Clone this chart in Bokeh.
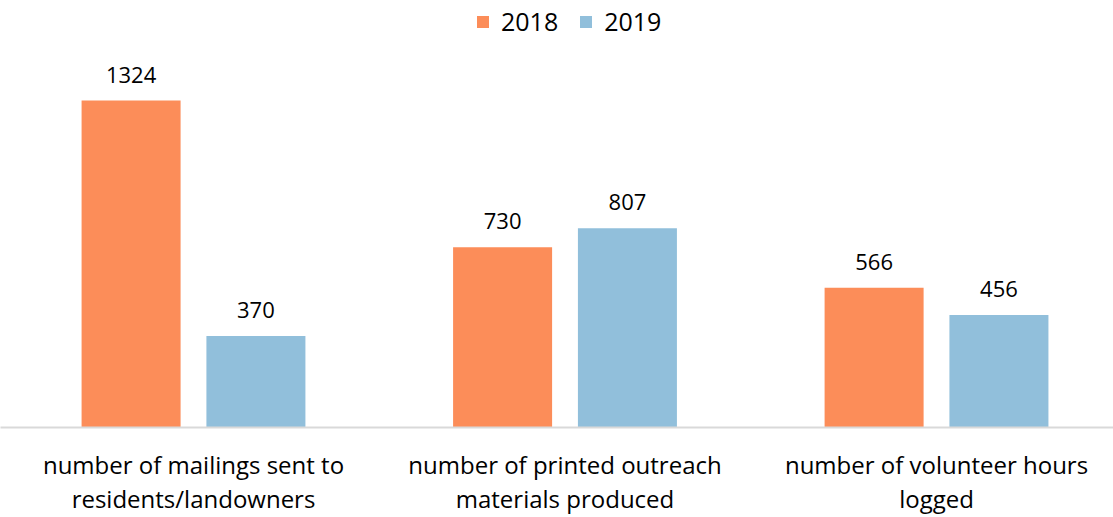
from bokeh.plotting import figure
from bokeh.models import ColumnDataSource, Legend, LegendItem, FixedTicker, Range1d
from bokeh.core.properties import value
from bokeh.embed import file_html
from bokeh.resources import INLINE

categories = ["number of mailings sent to\nresidents/landowners",
              "number of printed outreach\nmaterials produced",
              "number of volunteer hours\nlogged"]
series_names = ["2018", "2019"]
values_2018 = [1324, 730, 566]
values_2019 = [370, 807, 456]
colors = ["#fc8d59", "#91bfdb"]

FONT = "Open Sans"

p = figure(width=1113, height=517, output_backend="svg", toolbar_location=None,
           x_range=Range1d(-0.5195, 2.4764), y_range=Range1d(0, 1729),
           min_border_left=0, min_border_right=0, min_border_top=0, min_border_bottom=90)
p.outline_line_color = None
p.xgrid.visible = False
p.ygrid.visible = False
p.yaxis.visible = False

xs = list(range(len(categories)))
offset = 0.168
bw = 0.2665
renderers = []
for vals, off, col, name in [(values_2018, -offset, colors[0], series_names[0]),
                             (values_2019, offset, colors[1], series_names[1])]:
    src = ColumnDataSource(dict(x=[x + off for x in xs], top=vals,
                                label=[str(v) for v in vals]))
    r = p.vbar(x="x", top="top", width=bw, bottom=0, source=src,
               fill_color=col, line_color=None)
    renderers.append(r)
    p.text(x="x", y="top", text="label", source=src, text_align="center",
           text_baseline="alphabetic", y_offset=-26, text_font=value(FONT),
           text_font_size="22px", text_color="#000000")

xa = p.xaxis[0]
xa.ticker = FixedTicker(ticks=xs)
xa.major_label_overrides = {i: c for i, c in enumerate(categories)}
xa.major_tick_line_color = None
xa.minor_tick_line_color = None
xa.axis_line_color = "#d9d9d9"
xa.axis_line_width = 2
xa.major_label_text_font = FONT
xa.major_label_text_font_size = "24px"
xa.major_label_text_color = "#000000"
xa.major_label_text_line_height = 1.04
xa.major_label_standoff = 14

legend = Legend(items=[LegendItem(label=series_names[0], renderers=[renderers[0]]),
                       LegendItem(label=series_names[1], renderers=[renderers[1]])],
                orientation="horizontal", location=(475, 389),
                border_line_color=None, background_fill_alpha=0,
                glyph_width=15, glyph_height=15, spacing=20,
                label_text_font=FONT, label_text_font_size="25px",
                label_text_color="#000000",
                label_standoff=11, padding=0, margin=0)
p.add_layout(legend, "center")

open("out.html", "w").write(file_html(p, INLINE))
